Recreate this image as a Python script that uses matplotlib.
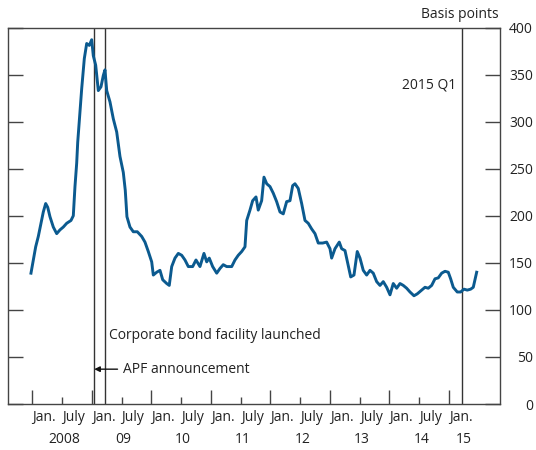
import matplotlib
matplotlib.use("Agg")
import matplotlib.pyplot as plt
import matplotlib.transforms as mtransforms
import numpy as np

plt.rcParams['font.family'] = ['Open Sans', 'DejaVu Sans']

# spread series (decimal year, basis points)
spread_year = [
    2007.978, 2008.017, 2008.057, 2008.101, 2008.146, 2008.185, 2008.225, 2008.259,
    2008.297, 2008.353, 2008.410, 2008.465, 2008.521, 2008.578, 2008.650, 2008.689,
    2008.717, 2008.746, 2008.763, 2008.801, 2008.830, 2008.874, 2008.914, 2008.958,
    2008.998, 2009.025, 2009.065, 2009.109, 2009.154, 2009.193, 2009.221, 2009.250,
    2009.305, 2009.361, 2009.418, 2009.473, 2009.529,
    2009.562, 2009.590, 2009.641, 2009.697, 2009.764, 2009.838, 2009.893, 2009.949,
    2010.006, 2010.033, 2010.090, 2010.145, 2010.191, 2010.258, 2010.301, 2010.342,
    2010.397, 2010.453, 2010.510, 2010.565, 2010.621, 2010.694, 2010.750, 2010.817,
    2010.884, 2010.930, 2010.973, 2011.030, 2011.098, 2011.153, 2011.208, 2011.266,
    2011.350, 2011.405, 2011.460, 2011.518, 2011.573,
    2011.602, 2011.657, 2011.702, 2011.758, 2011.796, 2011.853, 2011.892, 2011.938,
    2011.993, 2012.048, 2012.105, 2012.161, 2012.216, 2012.273, 2012.329, 2012.374,
    2012.413, 2012.468, 2012.525, 2012.581, 2012.636, 2012.693, 2012.749, 2012.804,
    2012.878, 2012.945, 2013.001, 2013.029, 2013.085, 2013.157, 2013.197, 2013.253,
    2013.308, 2013.349, 2013.404, 2013.459, 2013.505, 2013.560, 2013.617,
    2013.673, 2013.728, 2013.785, 2013.841, 2013.896, 2013.953, 2014.009, 2014.064,
    2014.121, 2014.177, 2014.232, 2014.289, 2014.345, 2014.412, 2014.467, 2014.541,
    2014.597, 2014.652, 2014.709, 2014.765, 2014.820, 2014.877, 2014.933, 2014.988,
    2015.028, 2015.072, 2015.139, 2015.196, 2015.252, 2015.307, 2015.364, 2015.408,
    2015.465,
]
spread_bp = [
    139, 153, 167, 178, 192, 204, 213, 209,
    199, 188, 181, 185, 188, 192, 195, 200,
    231, 256, 278, 310, 335, 367, 383, 381,
    387, 370, 360, 333, 337, 349, 355, 333,
    321, 303, 289, 263, 246,
    227, 199, 188, 183, 183, 178, 172, 162,
    151, 137, 140, 142, 132, 128, 126, 146,
    155, 160, 158, 153, 146, 146, 153, 146,
    160, 151, 155, 146, 139, 144, 148, 146,
    146, 153, 158, 162, 167,
    195, 206, 216, 220, 206, 216, 241, 234,
    231, 224, 215, 204, 202, 215, 216, 232,
    234, 229, 213, 195, 192, 186, 181, 171,
    171, 172, 165, 155, 165, 172, 165, 163,
    147, 135, 137, 162, 155, 142, 137,
    142, 139, 130, 126, 130, 124, 116, 128,
    123, 128, 126, 123, 119, 115, 117, 121,
    124, 123, 126, 133, 134, 139, 141, 140,
    133, 124, 119, 119, 122, 121, 122, 124,
    140,
]

# event lines (decimal year)
apf_date = 2009.041
cbf_date = 2009.221
q1_date = 2015.22

years = list(range(2008, 2016))
year_labels = ['2008', '09', '10', '11', '12', '13', '14', '15']
y_ticks = list(range(0, 401, 50))

line_col = '#0b5a8f'
text_col = '#222222'
axis_col = '#444444'

fig = plt.figure(figsize=(5.36, 4.5), dpi=100)
ax = fig.add_axes([8 / 536, 46 / 450, 492 / 536, 376.5 / 450])

ax.plot(spread_year, spread_bp, color=line_col, lw=2.1, solid_joinstyle='round', zorder=3)

for d in (apf_date, cbf_date, q1_date):
    ax.axvline(d, color='#333333', lw=1.0, zorder=2)

ax.set_xlim(2007.592, 2015.857)
ax.set_ylim(0, 400)

for s in ax.spines.values():
    s.set_color(axis_col)
    s.set_linewidth(1.0)

# y axis: ticks both sides, labels on the right
ax.set_yticks(y_ticks)
ax.yaxis.set_ticks_position('both')
ax.tick_params(axis='y', direction='in', length=10.8, width=1.0, color=axis_col,
               left=True, right=True, labelleft=False, labelright=True,
               labelsize=10, labelcolor=text_col, pad=23.8)
for lab in ax.get_yticklabels():
    lab.set_horizontalalignment('right')

# x axis: Jan. major, July minor, labels left aligned at the tick
ax.set_xticks(years)
ax.set_xticklabels(['Jan.'] * len(years))
ax.set_xticks([y + 0.5 for y in years[:-1]], minor=True)
ax.set_xticklabels(['July'] * (len(years) - 1), minor=True)
ax.tick_params(axis='x', which='major', direction='in', length=10, width=1.0,
               color=axis_col, labelsize=10, labelcolor=text_col, pad=4)
ax.tick_params(axis='x', which='minor', direction='in', length=5, width=1.0,
               color=axis_col, labelsize=10, labelcolor=text_col, pad=4)
for lab in ax.get_xticklabels() + ax.get_xticklabels(minor=True):
    lab.set_horizontalalignment('left')

trans = mtransforms.blended_transform_factory(ax.transData, ax.transAxes)
year_pos = [y + 0.5 for y in years[:-1]] + [q1_date]
for xp, lab in zip(year_pos, year_labels):
    ax.annotate(lab, xy=(xp, 0), xycoords=trans, xytext=(1.5, -25.5),
                textcoords='offset points', ha='center', va='center',
                fontsize=10, color=text_col, annotation_clip=False)

ax.annotate('2015 Q1', xy=(q1_date, 339), xytext=(-4.5, 0), textcoords='offset points',
            ha='right', va='center', fontsize=10, color=text_col)
ax.annotate('Corporate bond facility launched', xy=(cbf_date, 73), xytext=(3, 0),
            textcoords='offset points', ha='left', va='center', fontsize=10, color=text_col)
ax.annotate('APF announcement', xy=(apf_date, 37), xytext=(2009.525, 37),
            ha='left', va='center', fontsize=10, color=text_col,
            arrowprops=dict(arrowstyle='-|>', color='#111111', lw=1.0,
                            mutation_scale=8, shrinkA=2, shrinkB=0))

fig.text(499 / 536, 1 - 14.5 / 450, 'Basis points', ha='right', va='center',
         fontsize=10, color=text_col)

fig.savefig('out.png', dpi=100)
